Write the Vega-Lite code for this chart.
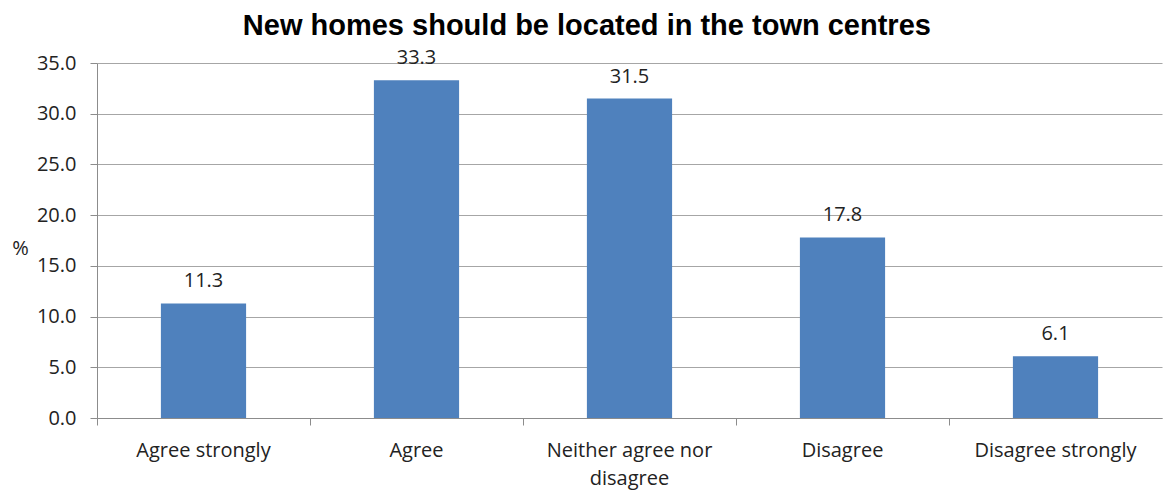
{
  "$schema": "https://vega.github.io/schema/vega-lite/v6.json",
  "autosize": "none",
  "width": 1065,
  "height": 355,
  "padding": {"left": 97, "top": 63, "right": 4, "bottom": 72},
  "background": "white",
  "title": {
    "text": "New homes should be located in the town centres",
    "font": "Liberation Sans",
    "fontSize": 29,
    "fontWeight": "bold",
    "color": "#000000",
    "anchor": "middle",
    "frame": "bounds",
    "offset": 7
  },
  "data": {
    "values": [
      {"response": "Agree strongly", "pct": 11.3},
      {"response": "Agree", "pct": 33.3},
      {"response": "Neither agree nor disagree", "pct": 31.5},
      {"response": "Disagree", "pct": 17.8},
      {"response": "Disagree strongly", "pct": 6.1}
    ]
  },
  "encoding": {
    "x": {
      "field": "response",
      "type": "nominal",
      "sort": null,
      "scale": {"paddingInner": 0, "paddingOuter": 0},
      "axis": {
        "title": null,
        "labelAngle": 0,
        "bandPosition": 0,
        "ticks": true,
        "tickSize": 7,
        "tickColor": "#8c8c8c",
        "domainColor": "#8c8c8c",
        "labelFont": "Open Sans",
        "labelFontSize": 20,
        "labelColor": "#222222",
        "labelPadding": 15,
        "labelLimit": 300,
        "labelLineHeight": 28,
        "labelExpr": "datum.value == 'Neither agree nor disagree' ? ['Neither agree nor', 'disagree'] : datum.value",
        "grid": false
      }
    },
    "y": {
      "field": "pct",
      "type": "quantitative",
      "scale": {"domain": [0, 35], "nice": false},
      "axis": {
        "title": "%",
        "titleAngle": 0,
        "titleFont": "Open Sans",
        "titleFontSize": 20,
        "titleFontWeight": "normal",
        "titleColor": "#222222",
        "titleX": -77,
        "titleY": 195,
        "values": [0, 5, 10, 15, 20, 25, 30, 35],
        "format": ".1f",
        "labelFont": "Open Sans",
        "labelFontSize": 20,
        "labelColor": "#222222",
        "labelPadding": 14,
        "tickSize": 7,
        "tickColor": "#8c8c8c",
        "domainColor": "#8c8c8c",
        "gridColor": "#a6a6a6",
        "gridWidth": 1
      }
    }
  },
  "layer": [
    {
      "mark": {"type": "bar", "color": "#4f81bd", "width": {"band": 0.4}}
    },
    {
      "mark": {"type": "text", "baseline": "bottom", "dy": -12, "font": "Open Sans", "fontSize": 20, "color": "#222222"},
      "encoding": {
        "text": {"field": "pct", "type": "quantitative", "format": ".1f"}
      }
    }
  ],
  "config": {
    "view": {"stroke": null}
  }
}
